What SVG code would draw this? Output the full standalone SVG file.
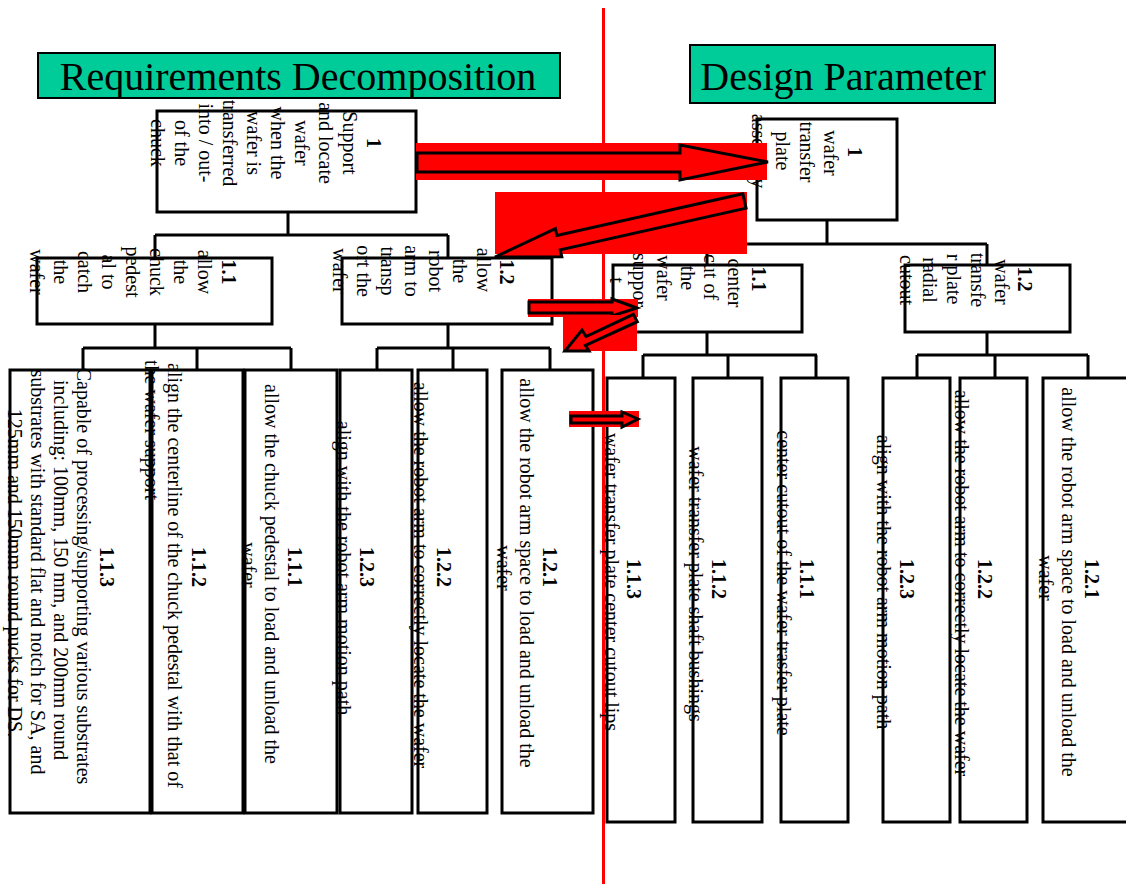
<svg xmlns="http://www.w3.org/2000/svg" width="1126" height="884" viewBox="0 0 1126 884">
<style>
.t{font-family:"Liberation Serif","Times New Roman",serif;font-size:20px;text-anchor:middle;fill:#000}
.s{text-anchor:start}
.b{font-weight:bold}
.box{fill:#fff;stroke:#000;stroke-width:3}
.conn{fill:none;stroke:#000;stroke-width:3}
.title{fill:#00CC99;stroke:#000;stroke-width:2}
.tt{font-family:"Liberation Serif","Times New Roman",serif;font-size:40px;text-anchor:middle;fill:#000}
.red{fill:#f00}
.arr{fill:#f00;stroke:#000;stroke-width:3;stroke-linejoin:miter}
</style>
<rect x="0" y="0" width="1126" height="884" fill="#fff"/>
<line id="divider" x1="603.5" y1="8" x2="603.5" y2="884" stroke="#f00" stroke-width="3"/>
<g id="title-req"><rect class="title" x="38" y="53" width="522" height="45"/><text class="tt" x="298" y="90">Requirements Decomposition</text></g>
<g id="title-dp"><rect class="title" x="690" y="45" width="305" height="58"/><text class="tt" x="843" y="90">Design Parameter</text></g>
<g id="connectors">
<path class="conn" d="M288,212V235M155,235H448M155,235V258M448,235V258"/>
<path class="conn" d="M155,324V348M83,348H291M83,348V370M197,348V370M291,348V370"/>
<path class="conn" d="M448,324V348M377,348H550M377,348V370M453,348V370M550,348V370"/>
<path class="conn" d="M827,220V244M707,244H987M707,244V265M987,244V265"/>
<path class="conn" d="M707,332V355M643,355H817M643,355V378M728,355V378M816,355V378"/>
<path class="conn" d="M987,332V355M917,355H1088M917,355V378M995,355V378M1088,355V378"/>
</g>
<g id="req-1"><rect class="box" x="157" y="111" width="259" height="101"/>
<g transform="rotate(90)">
<text class="t b" x="143" y="-367">1</text>
<text class="t" x="143" y="-343">Support</text>
<text class="t" x="143" y="-319">and locate</text>
<text class="t" x="143" y="-295">wafer</text>
<text class="t" x="143" y="-271">when the</text>
<text class="t" x="143" y="-247">wafer is</text>
<text class="t" x="143" y="-223">transferred</text>
<text class="t" x="143" y="-199">into / out-</text>
<text class="t" x="143" y="-175">of the</text>
<text class="t" x="143" y="-151">chuck</text>
</g></g>
<g id="req-1-1"><rect class="box" x="37" y="258" width="235" height="66"/>
<g transform="rotate(90)">
<text class="t b" x="272" y="-222">1.1</text>
<text class="t" x="272" y="-198">allow</text>
<text class="t" x="272" y="-174">the</text>
<text class="t" x="272" y="-150">chuck</text>
<text class="t" x="272" y="-126">pedest</text>
<text class="t" x="272" y="-102">al to</text>
<text class="t" x="272" y="-78">catch</text>
<text class="t" x="272" y="-54">the</text>
<text class="t" x="272" y="-30">wafer</text>
</g></g>
<g id="req-1-2"><rect class="box" x="342" y="258" width="210" height="66"/>
<g transform="rotate(90)">
<text class="t b" x="272" y="-500">1.2</text>
<text class="t" x="270" y="-477">allow</text>
<text class="t" x="271" y="-453">the</text>
<text class="t" x="271" y="-429">robot</text>
<text class="t" x="271" y="-405">arm to</text>
<text class="t" x="271" y="-381">transp</text>
<text class="t" x="271" y="-357">ort the</text>
<text class="t" x="271" y="-333">wafer</text>
</g></g>
<g id="req-1-1-3"><rect class="box" x="10" y="370" width="140" height="443"/>
<g transform="rotate(90)">
<text class="t b" x="567" y="-100">1.1.3</text>
<text class="t" x="576" y="-77">Capable of processing/supporting various substrates</text>
<text class="t" x="570" y="-54">including:  100mm, 150 mm, and 200mm round</text>
<text class="t" x="572" y="-31">substrates with standard flat and notch for SA, and</text>
<text class="t" x="573" y="-8">125mm and 150mm round pucks for DS.</text>
</g></g>
<g id="req-1-1-2"><rect class="box" x="152" y="370" width="91" height="443"/>
<g transform="rotate(90)">
<text class="t b" x="567" y="-192">1.1.2</text>
<text class="t s" x="363" y="-168">align the centerline of the chuck pedestal with that of</text>
<text class="t s" x="360" y="-145">the wafer support</text>
</g></g>
<g id="req-1-1-1"><rect class="box" x="245" y="370" width="92" height="443"/>
<g transform="rotate(90)">
<text class="t b" x="567" y="-288">1.1.1</text>
<text class="t" x="574" y="-265">allow the chuck pedestal to load and unload the</text>
<text class="t" x="565" y="-242">wafer</text>
</g></g>
<g id="req-1-2-3"><rect class="box" x="340" y="370" width="72" height="443"/>
<g transform="rotate(90)">
<text class="t b" x="567" y="-360">1.2.3</text>
<text class="t" x="568" y="-337">align with the robot arm motion path</text>
</g></g>
<g id="req-1-2-2"><rect class="box" x="418" y="370" width="69" height="443"/>
<g transform="rotate(90)">
<text class="t b" x="567" y="-437">1.2.2</text>
<text class="t" x="575" y="-414">allow the robot arm to correctly locate the wafer</text>
</g></g>
<g id="req-1-2-1"><rect class="box" x="502" y="370" width="91" height="443"/>
<g transform="rotate(90)">
<text class="t b" x="567" y="-543">1.2.1</text>
<text class="t" x="573" y="-520">allow the robot arm space to load and unload the</text>
<text class="t" x="568" y="-497">wafer</text>
</g></g>
<g id="dp-1"><rect class="box" x="757" y="119" width="140" height="101"/>
<g transform="rotate(90)">
<text class="t b" x="152" y="-848">1</text>
<text class="t" x="153" y="-824">wafer</text>
<text class="t" x="152" y="-800">transfer</text>
<text class="t" x="151" y="-776">plate</text>
<text class="t" x="151" y="-752">assembly</text>
</g></g>
<g id="dp-1-1"><rect class="box" x="613" y="265" width="189" height="67"/>
<g transform="rotate(90)">
<text class="t b" x="279" y="-752">1.1</text>
<text class="t" x="283" y="-728">center</text>
<text class="t" x="277" y="-704">cut of</text>
<text class="t" x="278" y="-681">the</text>
<text class="t" x="278" y="-657">wafer</text>
<text class="t" x="280" y="-633">suppor</text>
<text class="t" x="280" y="-610">t</text>
</g></g>
<g id="dp-1-2"><rect class="box" x="905" y="265" width="165" height="67"/>
<g transform="rotate(90)">
<text class="t b" x="279" y="-1018">1.2</text>
<text class="t" x="282" y="-995">wafer</text>
<text class="t" x="280" y="-971">transfe</text>
<text class="t" x="279" y="-947">r plate</text>
<text class="t" x="280" y="-923">radial</text>
<text class="t" x="280" y="-900">cutout</text>
</g></g>
<g id="dp-1-1-3"><rect class="box" x="607" y="378" width="68" height="444"/>
<g transform="rotate(90)">
<text class="t b" x="579" y="-627">1.1.3</text>
<text class="t" x="582" y="-605">wafer transfer plate center cutout lips</text>
</g></g>
<g id="dp-1-1-2"><rect class="box" x="693" y="378" width="69" height="444"/>
<g transform="rotate(90)">
<text class="t b" x="579" y="-712">1.1.2</text>
<text class="t" x="584" y="-689">wafer transfer plate shaft bushings</text>
</g></g>
<g id="dp-1-1-1"><rect class="box" x="781" y="378" width="67" height="444"/>
<g transform="rotate(90)">
<text class="t b" x="579" y="-800">1.1.1</text>
<text class="t" x="583" y="-777">center cutout of the wafer trasfer plate</text>
</g></g>
<g id="dp-1-2-3"><rect class="box" x="883" y="378" width="67" height="444"/>
<g transform="rotate(90)">
<text class="t b" x="579" y="-900">1.2.3</text>
<text class="t" x="582" y="-877">align with the robot arm motion path</text>
</g></g>
<g id="dp-1-2-2"><rect class="box" x="960" y="378" width="67" height="444"/>
<g transform="rotate(90)">
<text class="t b" x="579" y="-978">1.2.2</text>
<text class="t" x="583" y="-955">allow the robot arm to correctly locate the wafer</text>
</g></g>
<g id="dp-1-2-1"><rect class="box" x="1043" y="378" width="86" height="444"/>
<g transform="rotate(90)">
<text class="t b" x="579" y="-1085">1.2.1</text>
<text class="t" x="582" y="-1062">allow the robot arm space to load and unload the</text>
<text class="t" x="578" y="-1039">wafer</text>
</g></g>
<g id="arrows">
<rect class="red" x="416" y="143" width="351" height="37"/>
<polygon class="arr" points="417,153 680,153 680,145 768,162 680,180 680,172 417,172"/>
<rect class="red" x="495" y="192" width="252" height="62"/>
<polygon class="arr" points="742.9,193.8 557,235.5 555.4,228.7 495,257 561.8,256.7 560.2,249.9 746.1,208.2"/>
<rect class="red" x="528" y="299" width="110" height="18"/>
<polygon class="arr" points="529,302 612,302 612,299 637,308 612,316 612,313 529,313"/>
<rect class="red" x="563" y="315" width="74" height="36"/>
<polygon class="arr" points="633.3,314.3 586,336.5 582,330 565,351 589,351 585.5,345.5 637.3,321.7"/>
<rect class="red" x="569" y="411" width="70" height="16"/>
<polygon class="arr" points="571,416 622,416 622,412 638,419 622,427 622,423 571,423"/>
</g>
</svg>
